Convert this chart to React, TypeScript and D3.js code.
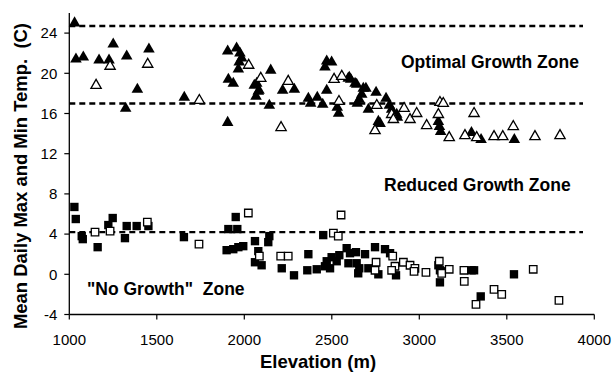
import React from "react";
import * as d3 from "d3";

// Elevation (m), temperature (C)
const filledMaxElev = [1030,1038,1080,1170,1227,1251,1328,1455,1389,1322,1657,1905,1956,1975,1985,1971,1966,1909,1937,1905,2057,2071,2084,2080,2067,2151,2143,2219,2286,2366,2379,2417,2448,2471,2471,2461,2499,2531,2539,2594,2600,2608,2633,2642,2646,2657,2671,2680,2695,2709,2753,2766,2776,2810,2829,2842,2871,2875,3109,3115,3122,3298,3353,3543];
const filledMaxTemp = [25.0,21.4,21.6,21.3,21.3,22.9,21.7,22.4,18.4,16.5,17.6,22.2,22.5,22.0,21.5,21.1,20.4,19.4,19.0,15.1,18.8,19.0,18.3,18.2,17.7,20.3,16.8,18.3,18.4,17.5,17.0,17.6,16.9,18.3,21.2,20.6,21.1,16.6,16.0,19.5,19.6,19.4,19.0,18.9,17.0,17.4,17.9,18.5,18.5,16.4,18.1,15.2,15.0,17.5,16.8,16.4,15.9,15.6,15.2,14.7,14.2,14.1,13.4,13.4];

const openMaxElev = [1153,1233,1448,1743,2025,2094,2251,2210,2513,2557,2541,2747,2757,2842,2852,2913,2947,2985,3042,3109,3118,3137,3171,3261,3313,3328,3427,3477,3537,3661,3804];
const openMaxTemp = [18.8,20.7,20.9,17.3,20.8,19.5,19.2,14.6,19.4,19.7,17.2,14.3,16.8,15.9,15.4,16.5,15.4,16.0,14.8,15.9,17.1,17.0,13.6,13.8,16.0,13.6,13.7,13.7,14.7,13.7,13.8];

const filledMinElev = [1029,1037,1071,1077,1162,1223,1248,1318,1328,1385,1452,1655,1899,1909,1937,1951,1960,1966,1994,2061,2080,2061,2099,2143,2137,2214,2284,2366,2360,2414,2451,2461,2471,2499,2490,2528,2543,2585,2604,2638,2690,2747,2595,2642,2657,2651,2709,2766,2804,2833,2867,3109,3118,3128,3118,3299,3313,3351,3541];
const filledMinTemp = [6.7,5.5,3.8,3.5,2.7,4.9,5.6,3.6,4.8,4.8,4.8,3.7,2.4,4.5,2.5,5.7,4.5,2.7,2.8,3.3,2.3,1.2,0.9,3.8,3.2,0.6,-0.1,2.0,0.4,0.5,3.9,0.8,1.3,1.7,0.6,1.3,1.9,2.6,2.1,2.2,2.0,2.7,1.1,1.1,0.6,0.1,0.6,0.0,2.5,2.1,-0.1,0.9,0.4,0.3,-0.8,0.4,0.4,-2.2,0.0];

const openMinElev = [1147,1233,1446,1741,2023,2086,2208,2251,2509,2537,2553,2753,2747,2848,2861,2842,2909,2947,2975,2970,3038,3114,3128,3171,3255,3257,3324,3427,3471,3651,3798];
const openMinTemp = [4.2,4.3,5.2,3.0,6.1,1.8,1.8,1.8,4.1,3.8,5.9,1.2,0.4,1.8,0.8,0.4,1.2,0.9,0.6,0.3,0.2,1.3,0.1,0.5,0.4,-0.7,-3.0,-1.5,-2.0,0.5,-2.6];

const zoneThresholds = [24.7, 17, 4.2];
const xTicks = [1000,1500,2000,2500,3000,3500,4000];
const yTicks = [-4,0,4,8,12,16,20,24];
const zoneLabels = ["Optimal Growth Zone", "Reduced Growth Zone", "\"No Growth\"  Zone"];
const zoneLabelPos = [[401, 68], [384, 191], [87, 295]];

export default function App() {
  const x = d3.scaleLinear().domain([1000, 4000]).range([69.3, 594.3]);
  const y = d3.scaleLinear().domain([-4, 26]).range([314.5, 13]);
  const tri = d3.symbol().type(d3.symbolTriangle).size(58)()!;
  const sq = d3.symbol().type(d3.symbolSquare).size(70)()!;
  const sqOpen = d3.symbol().type(d3.symbolSquare).size(56)()!;
  const triOpen = d3.symbol().type(d3.symbolTriangle).size(46)()!;
  const font = "Arial, 'Liberation Sans', Helvetica, sans-serif";
  const x0 = x.range()[0];
  return (
    <svg width={616} height={376} style={{ position: "absolute", left: 0, top: 0, background: "#fff" }} fontFamily={font}>
      {zoneThresholds.map((t, i) => (
        <line key={"z" + i} x1={x0} x2={583} y1={y(t)} y2={y(t)} stroke="#000" strokeWidth={2.4} strokeDasharray="6,4" />
      ))}
      {filledMaxElev.map((e, i) => (
        <path key={"fm" + i} d={tri} transform={`translate(${x(e)},${y(filledMaxTemp[i])})`} fill="#000" />
      ))}
      {filledMinElev.map((e, i) => (
        <path key={"fn" + i} d={sq} transform={`translate(${x(e)},${y(filledMinTemp[i])})`} fill="#000" />
      ))}
      {openMaxElev.map((e, i) => (
        <path key={"om" + i} d={triOpen} transform={`translate(${x(e)},${y(openMaxTemp[i])})`} fill="#fff" stroke="#000" strokeWidth={1.3} />
      ))}
      {openMinElev.map((e, i) => (
        <path key={"on" + i} d={sqOpen} transform={`translate(${x(e)},${y(openMinTemp[i])})`} fill="#fff" stroke="#000" strokeWidth={1.3} />
      ))}
      {/* axes */}
      <line x1={x0} x2={x0} y1={y(26)} y2={y(-4)} stroke="#000" strokeWidth={1.3} />
      <line x1={x0} x2={x(4000)} y1={y(-4)} y2={y(-4)} stroke="#000" strokeWidth={1.3} />
      {yTicks.map((t) => (
        <g key={"yt" + t}>
          <line x1={x0 - 5} x2={x0} y1={y(t)} y2={y(t)} stroke="#000" strokeWidth={1.2} />
          <text x={x0 - 12} y={y(t)} dy="0.35em" textAnchor="end" fontSize={15} fill="#000">{t}</text>
        </g>
      ))}
      {xTicks.map((t) => (
        <g key={"xt" + t}>
          <line x1={x(t)} x2={x(t)} y1={y(-4)} y2={y(-4) + 5} stroke="#000" strokeWidth={1.2} />
          <text x={x(t)} y={345} textAnchor="middle" fontSize={15} fill="#000">{t}</text>
        </g>
      ))}
      <text x={318} y={368} textAnchor="middle" fontSize={18.5} fontWeight="bold" fill="#000">Elevation (m)</text>
      <text transform={`translate(27,176) rotate(-90)`} textAnchor="middle" fontSize={17.5} fontWeight="bold" fill="#000" textLength={306} lengthAdjust="spacingAndGlyphs" style={{ whiteSpace: "pre" }}>{"Mean Daily Max and Min Temp.  (C)"}</text>
      {zoneLabels.map((s, i) => (
        <text key={"zl" + i} x={zoneLabelPos[i][0]} y={zoneLabelPos[i][1]} fontSize={17.5} fontWeight="bold" fill="#000" style={{ whiteSpace: "pre" }}>{s}</text>
      ))}
    </svg>
  );
}
